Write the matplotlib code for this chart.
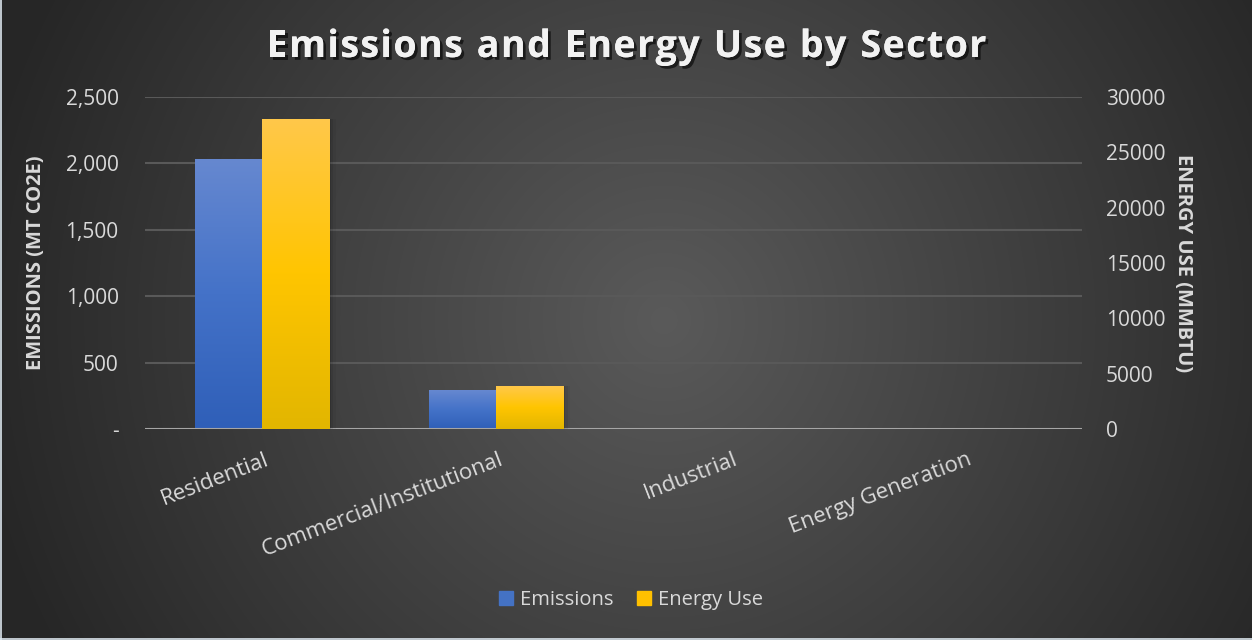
import numpy as np
import matplotlib
matplotlib.use("Agg")
import matplotlib.pyplot as plt
from matplotlib import patheffects as pe
from matplotlib.patches import Rectangle
from matplotlib.ticker import FuncFormatter, FixedLocator

# Data
sectors = ["Residential", "Commercial/Institutional", "Industrial", "Energy Generation"]
emissions = [2030, 290, 0, 0]          # MT CO2e
energy_use = [28000, 3850, 0, 0]       # MMBTU
emission_ticks = [0, 500, 1000, 1500, 2000, 2500]
energy_ticks = [0, 5000, 10000, 15000, 20000, 25000, 30000]
title = "Emissions and Energy Use by Sector"

W, H = 1252, 640
FONT = ["Open Sans", "DejaVu Sans"]
TXT = "#d9d9d9"

fig = plt.figure(figsize=(W / 100, H / 100), dpi=100)

# Radial dark-grey background
bg = fig.add_axes([0, 0, 1, 1], zorder=-10)
yy, xx = np.mgrid[0:H, 0:W]
cx, cy = 0.53 * W, 0.50 * H
r = np.sqrt(((xx - cx) / (0.56 * W)) ** 2 + ((yy - cy) / (0.56 * W)) ** 2)
r = np.clip(r, 0, 1)
inner, outer = np.array([90, 90, 90]) / 255, np.array([38, 38, 38]) / 255
img = inner[None, None, :] * (1 - r[..., None]) + outer[None, None, :] * r[..., None]
bg.imshow(img, extent=[0, 1, 0, 1], aspect="auto", origin="upper")
# thin light edge on the left and bottom
bg.plot([0.0006, 0.0006], [0, 1], color="#dce6ee", lw=1.2)
bg.plot([0, 1], [0.0012, 0.0012], color="#dce6ee", lw=1.2)
bg.set_xlim(0, 1)
bg.set_ylim(0, 1)
bg.axis("off")

# Plot area
ax = fig.add_axes([145 / W, 1 - 429 / H, (1082 - 145) / W, (429 - 97) / H])
ax2 = ax.twinx()
ax.patch.set_alpha(0)
ax2.patch.set_alpha(0)

x = np.arange(len(sectors))
bw = 0.287

def gradient_fill(axis, patches, stops):
    grad = np.linspace(0, 1, 256)
    cols = np.array([s[1] for s in stops])
    pos = np.array([s[0] for s in stops])
    rgb = np.stack([np.interp(grad, pos, cols[:, k]) for k in range(3)], axis=1)
    rgb = rgb[:, None, :]
    for p in patches:
        x0, y0 = p.get_x(), p.get_y()
        w, h = p.get_width(), p.get_height()
        if h <= 0:
            continue
        # soft shadow
        for i, a in enumerate([0.10, 0.07, 0.04]):
            sh = Rectangle((x0 + w * 0.02 * (i + 1), y0), w * (1 + 0.02 * i), h,
                           transform=axis.transData, facecolor="black",
                           alpha=a, linewidth=0, zorder=2)
            axis.add_patch(sh)
        im = axis.imshow(rgb, extent=[x0, x0 + w, y0, y0 + h], aspect="auto",
                         origin="upper", zorder=3, interpolation="bilinear")
        im.set_clip_path(p)

def hexrgb(h):
    h = h.lstrip("#")
    return [int(h[i:i + 2], 16) / 255 for i in (0, 2, 4)]

b1 = ax.bar(x - bw / 2, emissions, bw, color="#4472c4", linewidth=0, zorder=3)
b2 = ax2.bar(x + bw / 2, energy_use, bw, color="#ffc000", linewidth=0, zorder=3)
gradient_fill(ax, b1, [(0, hexrgb("#6688d0")), (0.5, hexrgb("#4472c8")), (1, hexrgb("#2f5fb8"))])
gradient_fill(ax2, b2, [(0, hexrgb("#ffc84a")), (0.5, hexrgb("#ffc500")), (1, hexrgb("#e2b600"))])

ax.set_xlim(-0.5, len(sectors) - 0.5)
ax.set_ylim(0, 2500)
ax2.set_ylim(0, 30000)
ax2.set_xlim(-0.5, len(sectors) - 0.5)

ax.yaxis.set_major_locator(FixedLocator(emission_ticks))
ax2.yaxis.set_major_locator(FixedLocator(energy_ticks))
ax.yaxis.set_major_formatter(FuncFormatter(lambda v, p: "-" if v == 0 else f"{v:,.0f}"))
ax2.yaxis.set_major_formatter(FuncFormatter(lambda v, p: f"{v:.0f}"))

ax.grid(axis="y", color="#595959", linewidth=1.5, zorder=0)
ax.set_axisbelow(True)
for a in (ax, ax2):
    for s in a.spines.values():
        s.set_visible(False)
    a.tick_params(length=0, colors=TXT, labelsize=15)
    for lab in a.get_yticklabels():
        lab.set_fontfamily(FONT)
ax.axhline(0, color="#a6a6a6", linewidth=2.2, zorder=4)
ax.tick_params(axis="y", pad=19)
ax2.tick_params(axis="y", pad=17)

ax.set_xticks(x)
ax.set_xticklabels([])
for xi, name in zip(x, sectors):
    ax.text(xi + 0.01, -0.06, name, transform=ax.get_xaxis_transform(),
            rotation=21, rotation_mode="anchor", ha="right", va="top",
            color=TXT, fontsize=16, family=FONT)

ax.set_ylabel("EMISSIONS (MT CO2E)", color=TXT, fontsize=14.5, fontweight="bold",
              family=FONT, labelpad=14)
ax2.set_ylabel("ENERGY USE (MMBTU)", color=TXT, fontsize=14.5, fontweight="bold",
               family=FONT, rotation=-90, labelpad=20)

# Title with letter spacing
renderer = fig.canvas.get_renderer()
tkw = dict(color="#f2f2f2", fontsize=27, fontweight="bold", family=FONT, va="center",
           path_effects=[pe.withSimplePatchShadow(offset=(2, -2), shadow_rgbFace="black", alpha=0.6),
                         pe.Normal()])
spacing = 1.5  # px between glyphs
widths = []
for ch in title:
    t = fig.text(0, 0, ch if ch != " " else "n", **tkw)
    wpx = t.get_window_extent(renderer).width
    if ch == " ":
        wpx *= 0.45
    widths.append(wpx)
    t.remove()
total = sum(widths) + spacing * (len(title) - 1)
xpos = 626.5 - total / 2
ty = 1 - 47 / H
for ch, wpx in zip(title, widths):
    if ch != " ":
        fig.text(xpos / W, ty, ch, ha="left", **tkw)
    xpos += wpx + spacing

# Legend
leg_handles = [Rectangle((0, 0), 1, 1, color="#4472c4"), Rectangle((0, 0), 1, 1, color="#ffc000")]
leg = fig.legend(leg_handles, ["Emissions", "Energy Use"], loc="center",
                 bbox_to_anchor=(631 / W, 1 - 600 / H), ncol=2, frameon=False,
                 prop={"family": FONT, "size": 14.5}, handlelength=0.7, handleheight=0.7,
                 handletextpad=0.35, columnspacing=1.2, labelcolor=TXT)

fig.savefig("out.png", dpi=100)
